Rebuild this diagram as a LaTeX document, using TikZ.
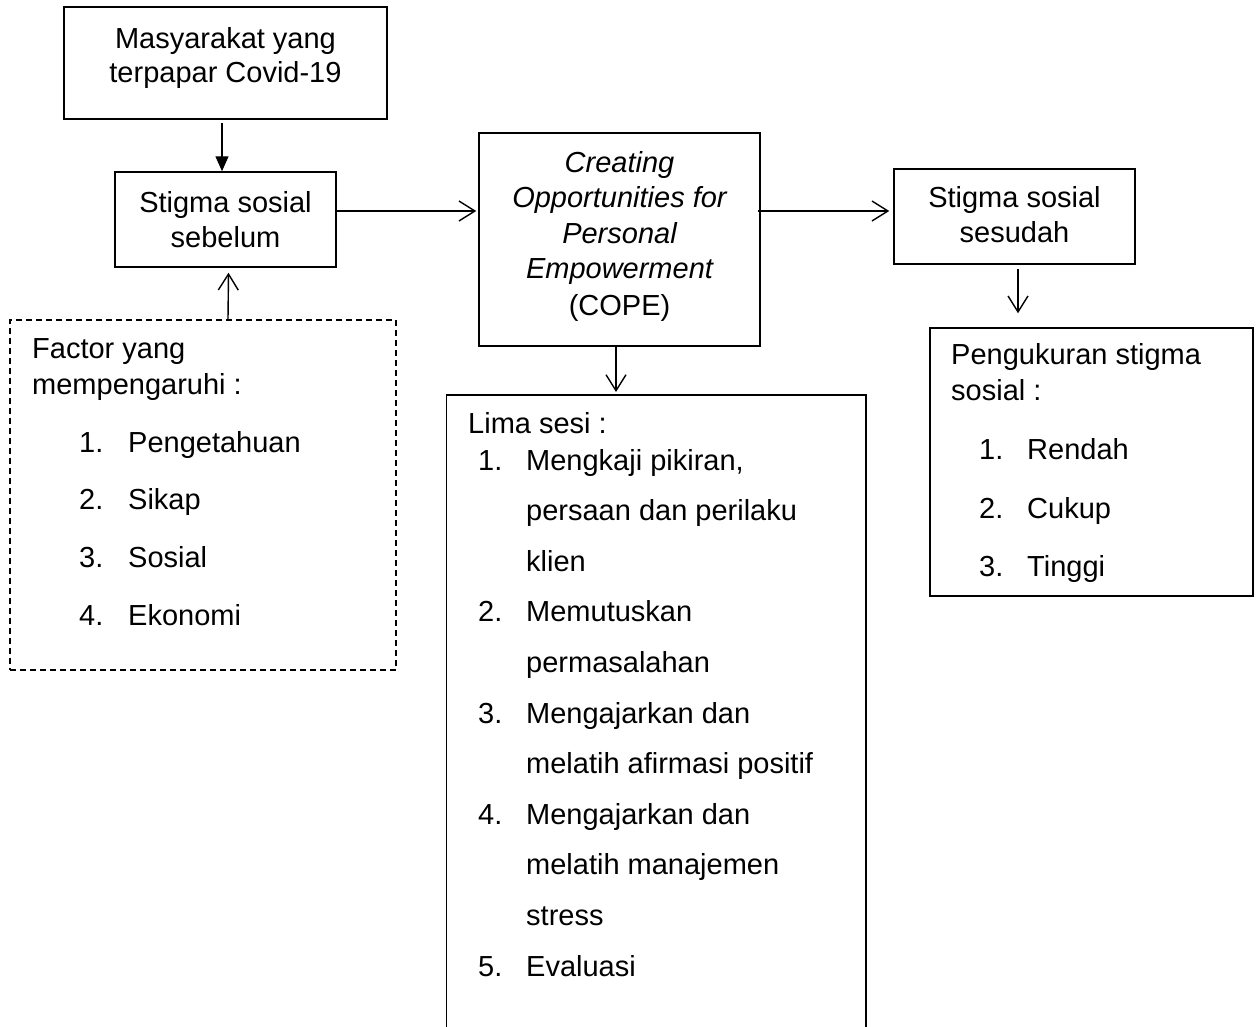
\documentclass[tikz,border=0pt]{standalone}
\usepackage{fontspec}
\setmainfont{Liberation Sans}
\usetikzlibrary{arrows.meta}
\begin{document}
\begin{tikzpicture}[x=1pt,y=-1pt,
  box/.style={draw, line width=1.5pt, rectangle, inner sep=0pt},
  dbox/.style={box, dash pattern=on 6pt off 4pt},
  txt/.style={anchor=base, inner sep=0pt, font=\fontsize{29}{35}\selectfont},
  ltxt/.style={anchor=base west, inner sep=0pt, font=\fontsize{29}{35}\selectfont},
  conn/.style={line width=1.4pt, -{Straight Barb[length=16pt,width=20pt,line width=1.4pt]}},
  fconn/.style={line width=1.4pt, -{Triangle[length=15pt,width=13pt]}},
]
\useasboundingbox (0,0) rectangle (1259,1026);

% boxes
\node[box, minimum width=323pt, minimum height=112pt] (A) at (225.5,63) {};
\node[box, minimum width=221pt, minimum height=95pt] (B) at (225.5,219.5) {};
\node[dbox, minimum width=386pt, minimum height=350pt] (F0) at (203,495) {};
\node[box, minimum width=281pt, minimum height=213pt] (C) at (619.5,239.5) {};
\node[box, minimum width=241pt, minimum height=95pt] (E) at (1014.5,216.5) {};
\node[box, minimum width=323pt, minimum height=268pt] (F) at (1091.5,462) {};
\coordinate (Dtop) at (616,395);
\draw[line width=1.5pt] (446.5,1030) |- (866,395) -- (866,1030);

% texts A
\node[txt] (a1) at (225.5,48) {Masyarakat yang};
\node[txt] (a2) at (225.5,82) {terpapar Covid-19};
% texts B
\node[txt] (b1) at (225.5,212) {Stigma sosial};
\node[txt] (b2) at (225.5,247) {sebelum};
% dashed box texts
\node[ltxt] (f1) at (32,358) {Factor yang};
\node[ltxt] (f2) at (32,394) {mempengaruhi :};
\foreach \n/\t/\y in {1/Pengetahuan/452, 2/Sikap/509, 3/Sosial/567, 4/Ekonomi/625}{
  \node[ltxt] (fn\n) at (79,\y) {\n.};
  \node[ltxt] (ft\n) at (128,\y) {\t};
}
% texts C
\node[txt] (c1) at (619.5,172) {\itshape Creating};
\node[txt] (c2) at (619.5,207) {\itshape Opportunities for};
\node[txt] (c3) at (619.5,243) {\itshape Personal};
\node[txt] (c4) at (619.5,278) {\itshape Empowerment};
\node[txt] (c5) at (619.5,315) {(COPE)};
% texts D
\node[ltxt] (d0) at (468,433) {Lima sesi :};
\node[ltxt] (dn1) at (478,470) {1.};
\node[ltxt] (dt1) at (526,470) {Mengkaji pikiran,};
\node[ltxt] (dt1b) at (526,520.6) {persaan dan perilaku};
\node[ltxt] (dt1c) at (526,571.2) {klien};
\node[ltxt] (dn2) at (478,621.8) {2.};
\node[ltxt] (dt2) at (526,621.8) {Memutuskan};
\node[ltxt] (dt2b) at (526,672.4) {permasalahan};
\node[ltxt] (dn3) at (478,723) {3.};
\node[ltxt] (dt3) at (526,723) {Mengajarkan dan};
\node[ltxt] (dt3b) at (526,773.6) {melatih afirmasi positif};
\node[ltxt] (dn4) at (478,824.2) {4.};
\node[ltxt] (dt4) at (526,824.2) {Mengajarkan dan};
\node[ltxt] (dt4b) at (526,874.8) {melatih manajemen};
\node[ltxt] (dt4c) at (526,925.4) {stress};
\node[ltxt] (dn5) at (478,976) {5.};
\node[ltxt] (dt5) at (526,976) {Evaluasi};
% texts E
\node[txt] (e1) at (1014.5,207) {Stigma sosial};
\node[txt] (e2) at (1014.5,242) {sesudah};
% texts F
\node[ltxt] (g1) at (951,364) {Pengukuran stigma};
\node[ltxt] (g2) at (951,400) {sosial :};
\foreach \n/\t/\y in {1/Rendah/459, 2/Cukup/518, 3/Tinggi/576}{
  \node[ltxt] (gn\n) at (979,\y) {\n.};
  \node[ltxt] (gt\n) at (1027,\y) {\t};
}

% connectors
\draw[fconn] ([xshift=-3.5pt,yshift=-3pt]A.south) -- ([xshift=-3.5pt]B.north);
\draw[conn] ([xshift=25pt]F0.north) -- ([xshift=3pt,yshift=-5pt]B.south);
\draw[conn, shorten >=2pt] ([yshift=8.5pt]B.east) -- ([yshift=8.5pt]B.east -| C.west);
\draw[conn, shorten >=1pt] ([yshift=28.5pt,xshift=-3pt]C.east) -- ([yshift=28.5pt,xshift=-3pt]C.east -| E.west);
\draw[conn, shorten >=3pt] ([xshift=-3.5pt]C.south) -- (Dtop);
\draw[conn, shorten >=14pt] ([xshift=3.5pt,yshift=-4pt]E.south) -- ([xshift=3.5pt]E.south |- F.north);
\end{tikzpicture}
\end{document}
